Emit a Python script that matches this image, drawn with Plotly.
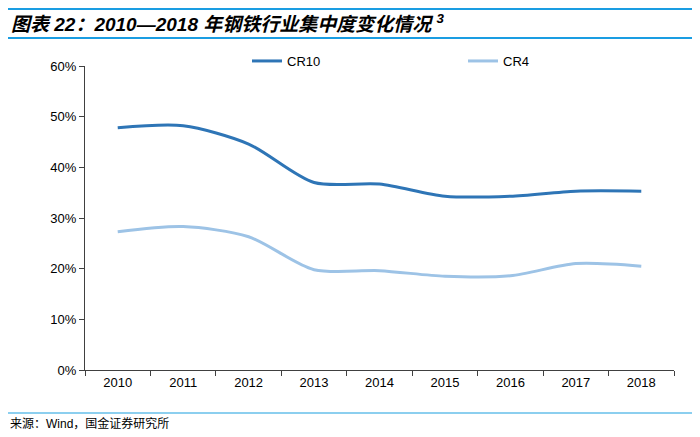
import plotly.graph_objects as go

years = ["2010", "2011", "2012", "2013", "2014", "2015", "2016", "2017", "2018"]
cr10 = [47.8, 48.2, 44.6, 37.0, 36.7, 34.3, 34.3, 35.3, 35.3]
cr4 = [27.3, 28.3, 26.3, 19.8, 19.6, 18.5, 18.6, 21.0, 20.5]
y_ticks = [0, 10, 20, 30, 40, 50, 60]
y_labels = [f"{v}%" for v in y_ticks]

FONT = "Liberation Sans, Arial, Noto Sans CJK SC, sans-serif"
L, R, T, B = 85, 26, 66, 67
W, H = 700, 437
PW, PH = W - L - R, H - T - B


def px_x(x):
    return (x - L) / PW


def px_y(y):
    return (H - B - y) / PH


fig = go.Figure()
fig.add_trace(go.Scatter(x=years, y=cr10, name="CR10", mode="lines", legend="legend",
                         line=dict(color="#2e75b6", width=3, shape="spline", smoothing=0.8)))
fig.add_trace(go.Scatter(x=years, y=cr4, name="CR4", mode="lines", legend="legend2",
                         line=dict(color="#9dc3e6", width=3, shape="spline", smoothing=0.8)))

leg_common = dict(orientation="h", xanchor="left", yanchor="middle",
                  font=dict(size=13, family=FONT), bgcolor="rgba(0,0,0,0)", borderwidth=0)
fig.update_layout(
    width=W, height=H,
    margin=dict(l=L, r=R, t=T, b=B),
    paper_bgcolor="white", plot_bgcolor="white",
    font=dict(family=FONT, size=13, color="#000000"),
    showlegend=True,
    legend=dict(x=px_x(247), y=px_y(61), **leg_common),
    legend2=dict(x=px_x(463), y=px_y(61), **leg_common),
    xaxis=dict(type="category", showline=True, linecolor="#404040", linewidth=1,
               ticks="outside", tickcolor="#404040", ticklen=5, tickson="boundaries",
               showgrid=False, tickfont=dict(size=13), range=[-0.5, 8.5]),
    yaxis=dict(range=[0, 60], tickvals=y_ticks, ticktext=y_labels, showline=True,
               linecolor="#404040", linewidth=1, ticks="outside", tickcolor="#404040",
               ticklen=5, showgrid=False, zeroline=False, tickfont=dict(size=13)),
)

# Title with rules
for ypx in (9, 38):
    fig.add_shape(type="line", xref="paper", yref="paper", x0=px_x(8), x1=px_x(692),
                  y0=px_y(ypx), y1=px_y(ypx), line=dict(color="#1a9de2", width=2))
fig.add_annotation(text="<b><i>图表 22：2010—2018 年钢铁行业集中度变化情况 <sup>3</sup></i></b>",
                   xref="paper", yref="paper", x=px_x(9), y=px_y(23),
                   xanchor="left", yanchor="middle", showarrow=False,
                   font=dict(size=19, color="#000000", family=FONT))
# Source with rule
fig.add_shape(type="line", xref="paper", yref="paper", x0=px_x(8), x1=px_x(692),
              y0=px_y(413), y1=px_y(413), line=dict(color="#8ccfef", width=2))
fig.add_annotation(text="来源：Wind，国金证券研究所",
                   xref="paper", yref="paper", x=px_x(8), y=px_y(423),
                   xanchor="left", yanchor="middle", showarrow=False,
                   font=dict(size=12, color="#000000", family=FONT))

fig.write_html("out.html", config={"displayModeBar": False},
               post_script="document.body.style.margin='0';")
